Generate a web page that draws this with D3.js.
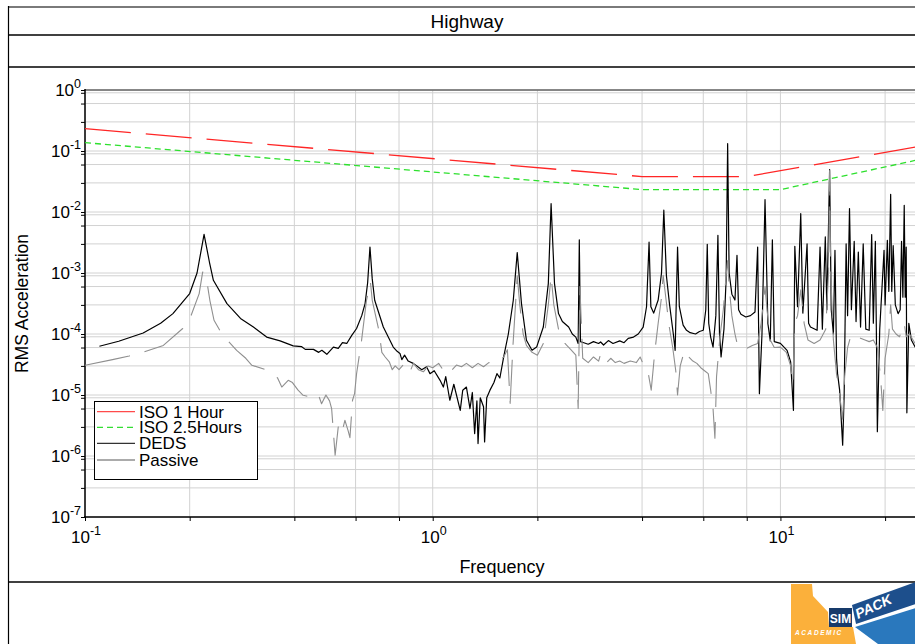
<!DOCTYPE html>
<html>
<head>
<meta charset="utf-8">
<script src="https://cdn.jsdelivr.net/npm/d3@7"></script>
<style>
  html, body { margin: 0; padding: 0; background: #fff; overflow: hidden; }
  svg { display: block; font-family: "Liberation Sans", Arial, Helvetica, sans-serif; }
</style>
</head>
<body>
<svg id="chart" width="915" height="644"></svg>
<script>
// ---- chart text ----
const chartTitle = "Highway";
const xAxisLabel = "Frequency";
const yAxisLabel = "RMS Acceleration";
const seriesNames = ["ISO 1 Hour", "ISO 2.5Hours", "DEDS", "Passive"];

// ---- axis ticks (powers of ten and grid multipliers) ----
const xTickExponents = [-1, 0, 1];
const yTickExponents = [0, -1, -2, -3, -4, -5, -6, -7];
const xGridSteps = [1, 2, 4, 6, 8];
const yGridSteps = [1, 3, 6, 9];

// ---- series: [frequency Hz, RMS acceleration] ----
const iso1Hour = [[0.1, 0.233], [4, 0.038], [8, 0.038], [25, 0.119]];
const iso25Hours = [[0.1, 0.137], [4, 0.0233], [10, 0.0233], [25, 0.0722]];

const deds = [
  [0.110, 6.3e-5], [0.125, 7.6e-5], [0.147, 1.04e-4], [0.165, 1.5e-4], [0.179, 2.16e-4],
  [0.200, 4.6e-4], [0.210, 1.0e-3], [0.220, 4.3e-3], [0.228, 1.5e-3], [0.234, 7.6e-4],
  [0.256, 3.15e-4], [0.280, 1.8e-4], [0.305, 1.3e-4], [0.333, 8.9e-5], [0.364, 7.7e-5],
  [0.397, 6.4e-5], [0.420, 6.2e-5], [0.430, 5.6e-5], [0.454, 5.6e-5], [0.470, 5.0e-5],
  [0.480, 5.4e-5], [0.496, 4.65e-5], [0.518, 6.1e-5], [0.535, 5.8e-5], [0.550, 7.2e-5],
  [0.566, 7.0e-5], [0.585, 9.5e-5], [0.604, 1.23e-4], [0.625, 2.0e-4], [0.639, 3.15e-4],
  [0.650, 7.0e-4], [0.660, 2.67e-3], [0.670, 8.0e-4], [0.681, 3.57e-4], [0.721, 1.3e-4],
  [0.770, 6.1e-5], [0.790, 5.2e-5], [0.805, 4.8e-5], [0.815, 3.8e-5], [0.830, 4.5e-5],
  [0.850, 3.6e-5], [0.879, 3.3e-5], [0.900, 3.0e-5], [0.930, 2.6e-5], [0.960, 2.9e-5],
  [0.982, 2.24e-5], [1.01, 2.5e-5], [1.05, 1.74e-5], [1.073, 1.35e-5], [1.09, 2.0e-5],
  [1.12, 8.2e-6], [1.15, 1.5e-5], [1.20, 5.6e-6], [1.22, 1.2e-5], [1.25, 1.35e-5],
  [1.28, 6.0e-6], [1.30, 1.1e-5], [1.32, 2.33e-6], [1.34, 8.0e-6], [1.35, 1.6e-6],
  [1.37, 9.0e-6], [1.40, 6.4e-6], [1.41, 1.7e-6], [1.43, 9.0e-6], [1.46, 1.19e-5],
  [1.50, 1.6e-5], [1.53, 2.24e-5], [1.56, 1.9e-5], [1.60, 4.2e-5], [1.65, 1.0e-4],
  [1.705, 3.57e-4], [1.75, 2.16e-3], [1.80, 3.15e-4], [1.86, 7.9e-5], [1.93, 5.4e-5],
  [1.99, 6.1e-5], [2.08, 1.3e-4], [2.15, 6.7e-4], [2.19, 1.37e-2], [2.24, 6.7e-4],
  [2.30, 2.16e-4], [2.36, 1.6e-4], [2.46, 1.3e-4], [2.52, 1.0e-4], [2.58, 8.9e-5],
  [2.62, 7.0e-5], [2.64, 3.5e-3], [2.66, 7.5e-5], [2.72, 7.2e-5], [2.80, 6.8e-5],
  [2.90, 7.5e-5], [3.00, 7.0e-5], [3.04, 7.4e-5], [3.10, 6.6e-5], [3.20, 7.8e-5],
  [3.30, 7.0e-5], [3.45, 7.7e-5], [3.55, 7.2e-5], [3.65, 8.5e-5], [3.78, 8.9e-5],
  [3.90, 1.0e-4], [4.03, 1.3e-4], [4.12, 2.8e-4], [4.19, 3.2e-3], [4.24, 2.8e-4],
  [4.32, 2.2e-4], [4.45, 3.6e-4], [4.55, 1.0e-3], [4.62, 1.07e-2], [4.70, 9.0e-4],
  [4.80, 3.0e-4], [4.92, 1.0e-4], [4.98, 5.4e-5], [5.06, 2.67e-3], [5.12, 2.8e-4],
  [5.25, 1.4e-4], [5.37, 1.15e-4], [5.50, 1.05e-4], [5.70, 1.0e-4], [5.85, 1.1e-4],
  [6.00, 1.15e-4], [6.10, 2.5e-4], [6.16, 2.95e-3], [6.22, 1.5e-4], [6.30, 8.9e-5],
  [6.40, 6.1e-5], [6.52, 2.0e-4], [6.61, 4.15e-3], [6.68, 1.0e-4], [6.75, 4.2e-5],
  [6.88, 1.2e-4], [6.98, 8.0e-4], [7.05, 0.132], [7.12, 1.0e-3], [7.25, 4.5e-4],
  [7.40, 3.6e-4], [7.50, 1.95e-3], [7.58, 2.5e-4], [7.70, 2.1e-4], [7.95, 1.9e-4],
  [8.20, 2.0e-4], [8.45, 2.3e-4], [8.60, 2.67e-3], [8.70, 1.05e-5], [8.85, 1.0e-4],
  [9.03, 1.6e-2], [9.20, 1.5e-4], [9.35, 7.7e-5], [9.48, 3.5e-3], [9.60, 7.5e-5],
  [10.0, 7.0e-5], [10.45, 5.4e-5], [10.7, 3.5e-5], [10.9, 5.6e-6], [11.0, 2.74e-3],
  [11.2, 2.8e-4], [11.44, 9.4e-3], [11.6, 2.2e-4], [11.93, 3.0e-3], [12.05, 1.5e-4],
  [12.2, 1.3e-4], [12.75, 1.15e-4], [13.0, 2.67e-3], [13.2, 1.2e-4], [13.46, 3.9e-3],
  [13.6, 2.5e-4], [13.85, 4.95e-2], [14.0, 2.5e-4], [14.2, 1.0e-4], [14.35, 2.36e-3],
  [14.5, 4.0e-5], [14.6, 2.24e-5], [14.8, 1.2e-5], [15.0, 3.0e-6], [15.1, 1.5e-6],
  [15.25, 1.0e-5], [15.45, 3.0e-3], [15.6, 2.0e-4], [15.8, 1.14e-2], [16.0, 2.5e-4],
  [16.3, 3.3e-3], [16.5, 1.6e-4], [16.75, 2.2e-3], [17.0, 1.3e-4], [17.3, 3.0e-3],
  [17.6, 1.2e-4], [18.0, 1.15e-4], [18.3, 4.26e-3], [18.5, 1.5e-4], [18.75, 3.3e-3],
  [18.9, 6.0e-5], [19.0, 2.5e-6], [19.3, 1.2e-4], [19.86, 2.36e-3], [20.0, 3.0e-4],
  [20.3, 3.43e-3], [20.5, 5.0e-4], [20.75, 1.95e-2], [20.9, 5.0e-4], [21.1, 2.8e-3],
  [21.4, 3.0e-4], [21.8, 2.16e-4], [22.1, 2.5e-4], [22.3, 3.3e-3], [22.5, 4.0e-4],
  [22.7, 1.29e-2], [22.85, 4.0e-4], [23.0, 2.67e-3], [23.1, 5.1e-6], [23.4, 1.5e-4],
  [23.8, 8.0e-5], [24.4, 6.1e-5], [25.0, 5.5e-5]
];

const passive = [
  [0.100, 3.07e-5], [0.120, 3.8e-5], [0.134, 4.36e-5], [0.148, 5.1e-5], [0.168, 6.5e-5],
  [0.191, 1.23e-4], [0.202, 2.03e-4], [0.213, 4.6e-4], [0.218, 1.04e-3], [0.223, 8.8e-4],
  [0.2286, 3.57e-4], [0.235, 1.68e-4], [0.249, 9.5e-5], [0.273, 5.4e-5], [0.290, 4.0e-5],
  [0.302, 3.07e-5], [0.329, 2.64e-5], [0.348, 2.24e-5], [0.358, 1.9e-5], [0.368, 1.35e-5],
  [0.384, 1.74e-5], [0.395, 1.6e-5], [0.410, 1.2e-5], [0.424, 9.9e-6], [0.443, 9.3e-6],
  [0.455, 1.0e-5], [0.468, 1.05e-5], [0.479, 7.2e-6], [0.493, 1.0e-5], [0.505, 8.0e-6],
  [0.512, 6.0e-6], [0.524, 1.03e-6], [0.535, 3.0e-6], [0.547, 2.3e-6], [0.559, 3.85e-6],
  [0.571, 2.6e-6], [0.578, 2.0e-6], [0.588, 8.2e-6], [0.596, 1.05e-5], [0.604, 2.24e-5],
  [0.624, 7.7e-5], [0.645, 3.57e-4], [0.662, 7.1e-4], [0.670, 3.57e-4], [0.700, 1.15e-4],
  [0.714, 5.0e-5], [0.730, 4.2e-5], [0.750, 3.5e-5], [0.765, 2.6e-5], [0.780, 3.0e-5],
  [0.800, 2.6e-5], [0.830, 3.3e-5], [0.860, 2.4e-5], [0.880, 3.3e-5], [0.910, 2.6e-5],
  [0.940, 2.4e-5], [0.970, 3.0e-5], [1.00, 2.8e-5], [1.04, 3.3e-5], [1.07, 2.6e-5],
  [1.10, 3.0e-5], [1.13, 2.5e-5], [1.17, 3.1e-5], [1.21, 2.9e-5], [1.25, 3.3e-5],
  [1.30, 2.8e-5], [1.35, 3.3e-5], [1.40, 2.9e-5], [1.45, 3.4e-5], [1.50, 3.2e-5],
  [1.55, 3.6e-5], [1.60, 4.2e-5], [1.64, 5.5e-5], [1.67, 7.3e-6], [1.70, 6.0e-5],
  [1.73, 3.0e-4], [1.75, 9.0e-4], [1.78, 3.0e-4], [1.82, 1.0e-4], [1.86, 6.5e-5],
  [1.93, 5.0e-5], [2.00, 4.5e-5], [2.08, 7.0e-5], [2.15, 3.0e-4], [2.19, 9.0e-4],
  [2.23, 3.0e-4], [2.30, 1.2e-4], [2.40, 7.0e-5], [2.50, 5.5e-5], [2.58, 4.5e-5],
  [2.62, 6.0e-6], [2.65, 6.0e-4], [2.70, 4.0e-5], [2.80, 3.4e-5], [2.90, 4.2e-5],
  [3.00, 3.6e-5], [3.04, 4.7e-5], [3.15, 3.3e-5], [3.25, 4.0e-5], [3.35, 3.4e-5],
  [3.45, 3.6e-5], [3.55, 3.3e-5], [3.70, 3.6e-5], [3.85, 3.4e-5], [3.95, 4.2e-5],
  [4.05, 3.0e-5], [4.15, 2.6e-5], [4.25, 1.2e-5], [4.35, 5.0e-5], [4.45, 1.5e-4],
  [4.55, 4.0e-4], [4.60, 9.2e-4], [4.68, 4.0e-4], [4.78, 1.4e-4], [4.90, 6.0e-5],
  [5.00, 2.5e-5], [5.06, 1.0e-5], [5.15, 3.0e-5], [5.30, 5.4e-5], [5.45, 4.2e-5],
  [5.60, 3.6e-5], [5.75, 3.3e-5], [5.90, 2.8e-5], [6.05, 2.5e-5], [6.20, 2.24e-5],
  [6.30, 1.2e-5], [6.40, 6.0e-6], [6.48, 1.95e-6], [6.55, 2.0e-5], [6.70, 9.0e-5],
  [6.85, 2.5e-4], [6.98, 9.0e-4], [7.05, 1.6e-3], [7.12, 6.0e-4], [7.25, 2.0e-4],
  [7.40, 1.0e-4], [7.55, 6.0e-5], [7.80, 6.1e-5], [8.00, 5.8e-5], [8.30, 6.5e-5],
  [8.60, 7.0e-5], [8.80, 1.5e-4], [8.95, 3.5e-4], [9.03, 6.0e-4], [9.15, 2.5e-4],
  [9.35, 8.0e-5], [9.60, 6.0e-5], [10.0, 6.1e-5], [10.4, 5.0e-5], [10.7, 3.0e-5],
  [10.85, 1.5e-5], [11.0, 1.5e-4], [11.2, 2.0e-4], [11.44, 5.3e-4], [11.7, 1.5e-4],
  [12.0, 8.0e-5], [12.5, 7.0e-5], [13.0, 8.0e-5], [13.5, 1.2e-4], [13.75, 1.0e-3],
  [13.85, 4.8e-2], [13.95, 1.0e-3], [14.2, 8.0e-5], [14.5, 2.2e-5], [14.8, 1.0e-5],
  [15.1, 4.0e-6], [15.3, 2.0e-5], [15.6, 6.0e-5], [16.0, 1.0e-4], [16.5, 9.0e-5],
  [17.0, 8.5e-5], [17.5, 8.0e-5], [18.0, 7.5e-5], [18.5, 8.0e-5], [19.0, 6.0e-5],
  [19.4, 2.0e-5], [19.7, 5.6e-6], [20.0, 4.0e-5], [20.5, 1.0e-4], [20.75, 3.0e-4],
  [21.0, 1.2e-4], [21.5, 1.0e-4], [22.0, 9.0e-5], [22.7, 1.5e-4], [23.0, 9.0e-5],
  [23.5, 1.0e-4], [24.4, 7.0e-5], [25.0, 7.0e-5]
];

// ---- layout ----
const W = 915, H = 644;
const plot = { left: 85, right: 918.8, top: 90, bottom: 517 };
const svg = d3.select("#chart");

const x = d3.scaleLog().domain([0.1, 25]).range([plot.left, plot.right]);
const y = d3.scaleLog().domain([1e-7, 1]).range([plot.bottom, plot.top]);

// ---- outer frame with header rows ----
const frame = svg.append("g");
frame.append("line").attr("x1", 8).attr("x2", 940).attr("y1", 7).attr("y2", 7)
  .attr("stroke", "#7a7a7a").attr("stroke-width", 2);
frame.append("line").attr("x1", 8.5).attr("x2", 8.5).attr("y1", 6).attr("y2", H)
  .attr("stroke", "#000").attr("stroke-width", 1.2);
[35, 67, 582].forEach(yy => {
  frame.append("line").attr("x1", 8).attr("x2", 940).attr("y1", yy).attr("y2", yy)
    .attr("stroke", "#000").attr("stroke-width", 1.3);
});
frame.append("text").attr("x", 467).attr("y", 28).attr("text-anchor", "middle")
  .attr("font-size", 19).attr("fill", "#000").text(chartTitle);

// ---- grid ----
const xGridVals = [];
xTickExponents.forEach(k => xGridSteps.forEach(m => {
  const v = m * Math.pow(10, k);
  if (v >= 0.1 && v <= 25) xGridVals.push(v);
}));
const yGridVals = [];
yTickExponents.forEach(k => yGridSteps.forEach(m => {
  const v = m * Math.pow(10, k);
  if (v >= 1e-7 * 0.999 && v <= 1.0001) yGridVals.push(v);
}));

const grid = svg.append("g");
grid.selectAll("line.gx").data(xGridVals).enter().append("line")
  .attr("x1", d => x(d)).attr("x2", d => x(d))
  .attr("y1", plot.top).attr("y2", plot.bottom)
  .attr("stroke", "#d2d2d2").attr("stroke-width", 1);
grid.selectAll("line.gy").data(yGridVals).enter().append("line")
  .attr("x1", plot.left).attr("x2", plot.right)
  .attr("y1", d => y(d)).attr("y2", d => y(d))
  .attr("stroke", "#d2d2d2").attr("stroke-width", 1);

// ---- axes ----
const xAxis = d3.axisBottom(x).tickValues(xGridVals).tickSize(4).tickFormat("");
svg.append("g").attr("transform", `translate(0,${plot.bottom})`).call(xAxis)
  .call(g => g.select(".domain").remove())
  .call(g => g.selectAll(".tick line").attr("stroke", "#000"));
const yAxis = d3.axisLeft(y).tickValues(yGridVals).tickSize(4).tickFormat("");
svg.append("g").attr("transform", `translate(${plot.left},0)`).call(yAxis)
  .call(g => g.select(".domain").remove())
  .call(g => g.selectAll(".tick line").attr("stroke", "#000"));

svg.append("line").attr("x1", plot.left).attr("x2", plot.right + 5)
  .attr("y1", plot.top).attr("y2", plot.top).attr("stroke", "#666").attr("stroke-width", 1.6);
svg.append("line").attr("x1", plot.left).attr("x2", plot.left)
  .attr("y1", plot.top - 1).attr("y2", plot.bottom + 1).attr("stroke", "#000").attr("stroke-width", 1.5);
svg.append("line").attr("x1", plot.left - 1).attr("x2", plot.right + 5)
  .attr("y1", plot.bottom).attr("y2", plot.bottom).attr("stroke", "#000").attr("stroke-width", 1.5);

// power-of-ten tick labels
function powerLabel(sel, exp) {
  sel.append("tspan").text("10");
  sel.append("tspan").attr("dy", -8).attr("font-size", 12.5).text(String(exp));
}
yTickExponents.forEach(k => {
  const t = svg.append("text").attr("x", 81).attr("y", y(Math.pow(10, k)) + 6)
    .attr("text-anchor", "end").attr("font-size", 17).attr("fill", "#000");
  powerLabel(t, k);
});
xTickExponents.forEach(k => {
  const t = svg.append("text").attr("x", x(Math.pow(10, k)) + 1).attr("y", 543)
    .attr("text-anchor", "middle").attr("font-size", 17).attr("fill", "#000");
  powerLabel(t, k);
});

svg.append("text").attr("x", (plot.left + plot.right) / 2).attr("y", 573)
  .attr("text-anchor", "middle").attr("font-size", 18).text(xAxisLabel);
svg.append("text")
  .attr("transform", `translate(28,${(plot.top + plot.bottom) / 2}) rotate(-90)`)
  .attr("text-anchor", "middle").attr("font-size", 17.5).text(yAxisLabel);

// ---- data lines ----
svg.append("defs").append("clipPath").attr("id", "plotClip")
  .append("rect").attr("x", plot.left).attr("y", plot.top)
  .attr("width", plot.right - plot.left).attr("height", plot.bottom - plot.top);

const line = d3.line().x(d => x(d[0])).y(d => y(d[1]));
const styles = [
  { data: iso1Hour, color: "#ff2626", width: 1.3, dash: "46,15" },
  { data: iso25Hours, color: "#2ee02e", width: 1.3, dash: "6,4" },
  { data: deds, color: "#000000", width: 1.2, dash: null },
  { data: passive, color: "#8f8f8f", width: 1.1, dash: "46,15" }
];
const lines = svg.append("g").attr("clip-path", "url(#plotClip)");
styles.forEach(s => {
  lines.append("path").datum(s.data).attr("d", line)
    .attr("fill", "none").attr("stroke", s.color).attr("stroke-width", s.width)
    .attr("stroke-linejoin", "round")
    .attr("stroke-dasharray", s.dash);
});

// ---- legend ----
const lg = svg.append("g");
lg.append("rect").attr("x", 94.5).attr("y", 401.5).attr("width", 163).attr("height", 78)
  .attr("fill", "#fff").attr("stroke", "#000").attr("stroke-width", 1);
const legendColors = ["#ff4a4a", "#33dd33", "#333333", "#8f8f8f"];
const legendDash = [null, "6,4", null, null];
const legendY = [411.7, 427.3, 443.3, 460];
seriesNames.forEach((name, i) => {
  lg.append("line").attr("x1", 97).attr("x2", 135)
    .attr("y1", legendY[i]).attr("y2", legendY[i])
    .attr("stroke", legendColors[i]).attr("stroke-width", 1.3)
    .attr("stroke-dasharray", legendDash[i]);
  lg.append("text").attr("x", 139).attr("y", legendY[i] + 6)
    .attr("font-size", 17).attr("fill", "#000").text(name);
});

// ---- footer badge ----
const badge = svg.append("g");
badge.append("polygon")
  .attr("points", "791,584 812,584 813,596 828,612 829,627 853,627 856,644 791,644")
  .attr("fill", "#fbb03b");
badge.append("rect").attr("x", 829).attr("y", 608).attr("width", 23).attr("height", 19)
  .attr("fill", "#173a6a");
badge.append("text").attr("x", 840.5).attr("y", 622.5).attr("text-anchor", "middle")
  .attr("font-size", 12).attr("font-weight", "bold").attr("fill", "#fff").text("SIM");
badge.append("text").attr("x", 795).attr("y", 635).attr("font-size", 6.5)
  .attr("font-style", "italic").attr("font-weight", "bold").attr("letter-spacing", 1.6)
  .attr("fill", "#fff").text("ACADEMIC");
badge.append("polygon").attr("points", "852,605 916,582 916,604 856,624")
  .attr("fill", "#1d4f8c");
badge.append("text").attr("transform", "translate(858,619) rotate(-25)")
  .attr("font-size", 14).attr("font-weight", "bold").attr("font-style", "italic")
  .attr("fill", "#fff").text("PACK");
badge.append("polygon").attr("points", "855,627 916,608 916,644 878,644")
  .attr("fill", "#2a78bd");
</script>
</body>
</html>
